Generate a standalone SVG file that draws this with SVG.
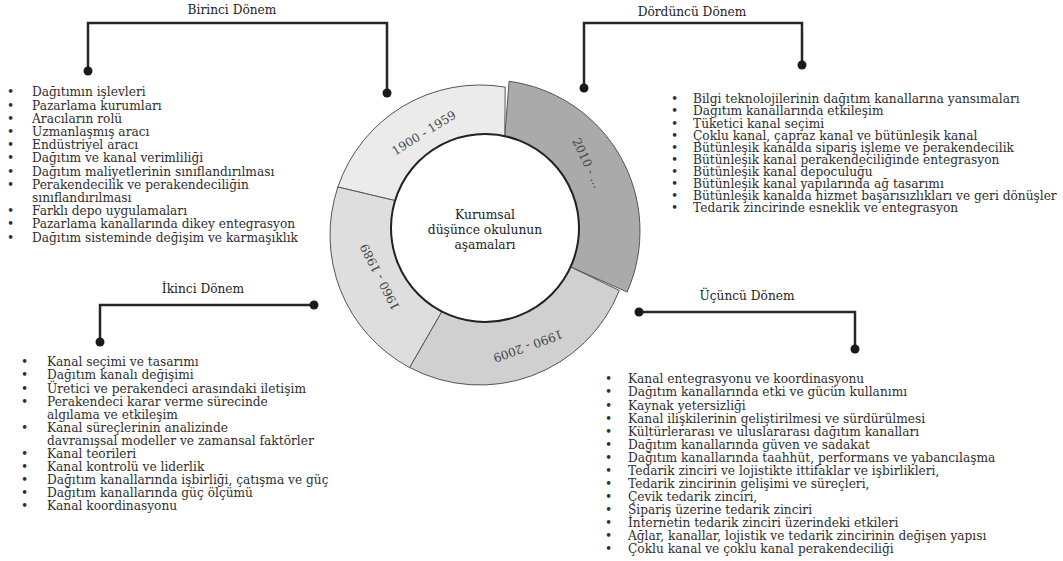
<svg xmlns="http://www.w3.org/2000/svg" width="1063" height="561" viewBox="0 0 1063 561">
<style>
.t{font-family:"DejaVu Serif","Liberation Serif",serif;font-size:12.2px;fill:#2e2e2e}
.ttl{font-family:"DejaVu Serif","Liberation Serif",serif;font-size:12.2px;fill:#1e1e1e;text-anchor:middle}
.lbl{font-family:"DejaVu Serif","Liberation Serif",serif;font-size:12px;fill:#444;text-anchor:middle}
.ctr{font-family:"DejaVu Serif","Liberation Serif",serif;font-size:12.3px;fill:#222;text-anchor:middle}
.conn{fill:none;stroke:#262626;stroke-width:2.5}
.dot{fill:#1a1a1a}
.seg{stroke:#555;stroke-width:1}
</style>
<rect width="1063" height="561" fill="#fff"/>

<g id="donut">
  <path class="seg" fill="#aaaaaa" d="M504.8,136.1 L509.1,81.3 A151,151 0 0 1 627.1,292 L570.5,266.9 A94,94 0 0 0 504.8,136.1 Z"/>
  <path class="seg" fill="#ebebeb" d="M395.1,200.6 L337.9,187 A150,150 0 0 1 505.2,87.1 L504.8,136.1 A94,94 0 0 0 395.1,200.6 Z"/>
  <path class="seg" fill="#d0d0d0" d="M570.5,266.9 L619.3,290.5 A150,150 0 0 1 409.6,367.5 L441.8,311.5 A94,94 0 0 0 570.5,266.9 Z"/>
  <path class="seg" fill="#dedede" d="M441.8,311.5 L409.6,367.5 A150,150 0 0 1 337.9,187 L395.1,200.6 A94,94 0 0 0 441.8,311.5 Z"/>
  <circle cx="485" cy="228" r="94" fill="#fff" stroke="#222" stroke-width="2"/>
  <text class="lbl" transform="translate(424,133) rotate(-32)" dy="4">1900 - 1959</text>
  <text class="lbl" transform="translate(587,163) rotate(65)" dy="4">2010 - ...</text>
  <text class="lbl" transform="translate(528,346) rotate(160)" dy="4">1990 - 2009</text>
  <text class="lbl" transform="translate(380,277) rotate(-117)" dy="4">1960 - 1989</text>
  <text class="ctr" x="485" y="219.3">Kurumsal</text>
  <text class="ctr" x="485" y="234.3">düşünce okulunun</text>
  <text class="ctr" x="485" y="249.3">aşamaları</text>
</g>

<g id="connectors">
  <path class="conn" d="M88,71 V23 H387 V93"/>
  <circle class="dot" cx="88" cy="71" r="4.5"/>
  <circle class="dot" cx="387" cy="93" r="4.5"/>
  <path class="conn" d="M584,88 V23 H802 V65"/>
  <circle class="dot" cx="584" cy="88" r="4.5"/>
  <circle class="dot" cx="802" cy="65" r="4.5"/>
  <path class="conn" d="M100,342 V305 H314"/>
  <circle class="dot" cx="100" cy="342" r="4.5"/>
  <circle class="dot" cx="314" cy="305" r="4.5"/>
  <path class="conn" d="M639,312 H855 V349"/>
  <circle class="dot" cx="639" cy="312" r="4.5"/>
  <circle class="dot" cx="855" cy="349" r="4.5"/>
</g>

<g id="birinci">
  <text class="ttl" x="232" y="14.3">Birinci Dönem</text>
  <text class="t">
    <tspan x="7" y="96.3">•</tspan><tspan x="32" y="96.3">Dağıtımın işlevleri</tspan>
    <tspan x="7" y="109.5">•</tspan><tspan x="32" y="109.5">Pazarlama kurumları</tspan>
    <tspan x="7" y="122.7">•</tspan><tspan x="32" y="122.7">Aracıların rolü</tspan>
    <tspan x="7" y="135.9">•</tspan><tspan x="32" y="135.9">Uzmanlaşmış aracı</tspan>
    <tspan x="7" y="149.1">•</tspan><tspan x="32" y="149.1">Endüstriyel aracı</tspan>
    <tspan x="7" y="162.3">•</tspan><tspan x="32" y="162.3">Dağıtım ve kanal verimliliği</tspan>
    <tspan x="7" y="175.5">•</tspan><tspan x="32" y="175.5">Dağıtım maliyetlerinin sınıflandırılması</tspan>
    <tspan x="7" y="188.7">•</tspan><tspan x="32" y="188.7">Perakendecilik ve perakendeciliğin</tspan>
    <tspan x="32" y="201.9">sınıflandırılması</tspan>
    <tspan x="7" y="215.1">•</tspan><tspan x="32" y="215.1">Farklı depo uygulamaları</tspan>
    <tspan x="7" y="228.3">•</tspan><tspan x="32" y="228.3">Pazarlama kanallarında dikey entegrasyon</tspan>
    <tspan x="7" y="241.5">•</tspan><tspan x="32" y="241.5">Dağıtım sisteminde değişim ve karmaşıklık</tspan>
  </text>
</g>

<g id="ikinci">
  <text class="ttl" x="203" y="293.3">İkinci Dönem</text>
  <text class="t">
    <tspan x="21" y="366.3">•</tspan><tspan x="47" y="366.3">Kanal seçimi ve tasarımı</tspan>
    <tspan x="21" y="379.4">•</tspan><tspan x="47" y="379.4">Dağıtım kanalı değişimi</tspan>
    <tspan x="21" y="392.5">•</tspan><tspan x="47" y="392.5">Üretici ve perakendeci arasındaki iletişim</tspan>
    <tspan x="21" y="405.6">•</tspan><tspan x="47" y="405.6">Perakendeci karar verme sürecinde</tspan>
    <tspan x="47" y="418.7">algılama ve etkileşim</tspan>
    <tspan x="21" y="431.8">•</tspan><tspan x="47" y="431.8">Kanal süreçlerinin analizinde</tspan>
    <tspan x="47" y="444.9">davranışsal modeller ve zamansal faktörler</tspan>
    <tspan x="21" y="458">•</tspan><tspan x="47" y="458">Kanal teorileri</tspan>
    <tspan x="21" y="471.1">•</tspan><tspan x="47" y="471.1">Kanal kontrolü ve liderlik</tspan>
    <tspan x="21" y="484.2">•</tspan><tspan x="47" y="484.2">Dağıtım kanallarında işbirliği, çatışma ve güç</tspan>
    <tspan x="21" y="497.3">•</tspan><tspan x="47" y="497.3">Dağıtım kanallarında güç ölçümü</tspan>
    <tspan x="21" y="510.4">•</tspan><tspan x="47" y="510.4">Kanal koordinasyonu</tspan>
  </text>
</g>

<g id="ucuncu">
  <text class="ttl" x="747" y="300.3">Üçüncü Dönem</text>
  <text class="t">
    <tspan x="605" y="383.3">•</tspan><tspan x="628" y="383.3">Kanal entegrasyonu ve koordinasyonu</tspan>
    <tspan x="605" y="396.4">•</tspan><tspan x="628" y="396.4">Dağıtım kanallarında etki ve gücün kullanımı</tspan>
    <tspan x="605" y="409.5">•</tspan><tspan x="628" y="409.5">Kaynak yetersizliği</tspan>
    <tspan x="605" y="422.5">•</tspan><tspan x="628" y="422.5">Kanal ilişkilerinin geliştirilmesi ve sürdürülmesi</tspan>
    <tspan x="605" y="435.6">•</tspan><tspan x="628" y="435.6">Kültürlerarası ve uluslararası dağıtım kanalları</tspan>
    <tspan x="605" y="448.7">•</tspan><tspan x="628" y="448.7">Dağıtım kanallarında güven ve sadakat</tspan>
    <tspan x="605" y="461.8">•</tspan><tspan x="628" y="461.8">Dağıtım kanallarında taahhüt, performans ve yabancılaşma</tspan>
    <tspan x="605" y="474.9">•</tspan><tspan x="628" y="474.9">Tedarik zinciri ve lojistikte ittifaklar ve işbirlikleri,</tspan>
    <tspan x="605" y="488">•</tspan><tspan x="628" y="488">Tedarik zincirinin gelişimi ve süreçleri,</tspan>
    <tspan x="605" y="501">•</tspan><tspan x="628" y="501">Çevik tedarik zinciri,</tspan>
    <tspan x="605" y="514.1">•</tspan><tspan x="628" y="514.1">Sipariş üzerine tedarik zinciri</tspan>
    <tspan x="605" y="527.2">•</tspan><tspan x="628" y="527.2">İnternetin tedarik zinciri üzerindeki etkileri</tspan>
    <tspan x="605" y="540.3">•</tspan><tspan x="628" y="540.3">Ağlar, kanallar, lojistik ve tedarik zincirinin değişen yapısı</tspan>
    <tspan x="605" y="553.4">•</tspan><tspan x="628" y="553.4">Çoklu kanal ve çoklu kanal perakendeciliği</tspan>
  </text>
</g>

<g id="dorduncu">
  <text class="ttl" x="692" y="16.3">Dördüncü Dönem</text>
  <text class="t">
    <tspan x="671" y="103.3">•</tspan><tspan x="693" y="103.3">Bilgi teknolojilerinin dağıtım kanallarına yansımaları</tspan>
    <tspan x="671" y="115.4">•</tspan><tspan x="693" y="115.4">Dağıtım kanallarında etkileşim</tspan>
    <tspan x="671" y="127.5">•</tspan><tspan x="693" y="127.5">Tüketici kanal seçimi</tspan>
    <tspan x="671" y="139.6">•</tspan><tspan x="693" y="139.6">Çoklu kanal, çapraz kanal ve bütünleşik kanal</tspan>
    <tspan x="671" y="151.7">•</tspan><tspan x="693" y="151.7">Bütünleşik kanalda sipariş işleme ve perakendecilik</tspan>
    <tspan x="671" y="163.8">•</tspan><tspan x="693" y="163.8">Bütünleşik kanal perakendeciliğinde entegrasyon</tspan>
    <tspan x="671" y="175.9">•</tspan><tspan x="693" y="175.9">Bütünleşik kanal depoculuğu</tspan>
    <tspan x="671" y="188">•</tspan><tspan x="693" y="188">Bütünleşik kanal yapılarında ağ tasarımı</tspan>
    <tspan x="671" y="200.1">•</tspan><tspan x="693" y="200.1">Bütünleşik kanalda hizmet başarısızlıkları ve geri dönüşler</tspan>
    <tspan x="671" y="212.2">•</tspan><tspan x="693" y="212.2">Tedarik zincirinde esneklik ve entegrasyon</tspan>
  </text>
</g>
</svg>
